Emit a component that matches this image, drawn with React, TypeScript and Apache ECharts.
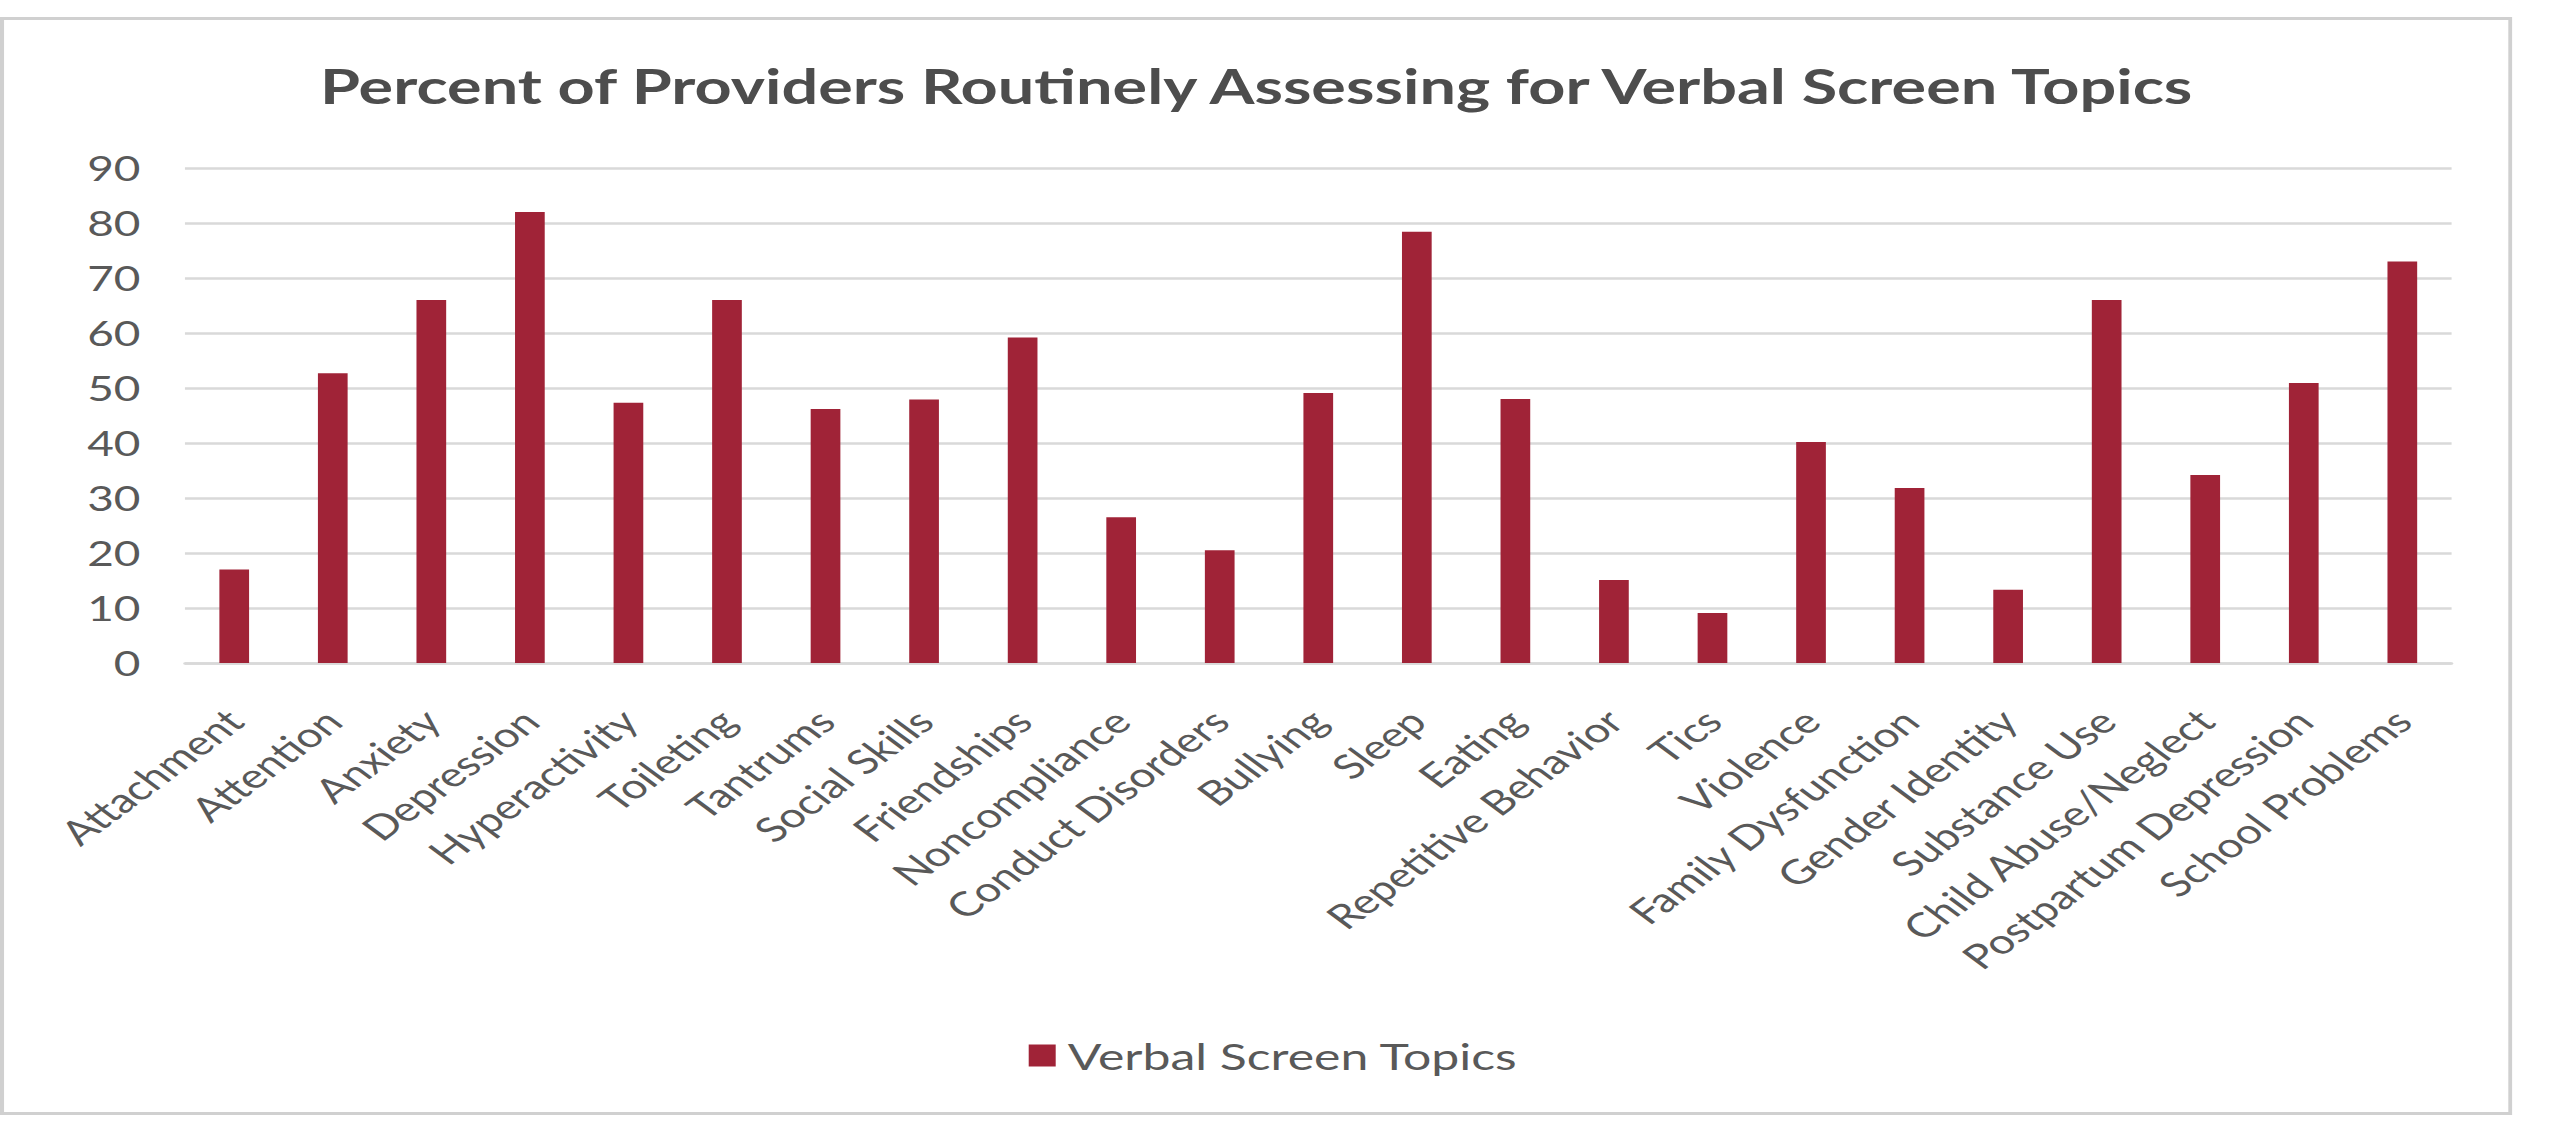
import React, { useEffect, useRef } from "react";
import * as echarts from "echarts";

const categories: string[] = [
  "Attachment",
  "Attention",
  "Anxiety",
  "Depression",
  "Hyperactivity",
  "Toileting",
  "Tantrums",
  "Social Skills",
  "Friendships",
  "Noncompliance",
  "Conduct Disorders",
  "Bullying",
  "Sleep",
  "Eating",
  "Repetitive Behavior",
  "Tics",
  "Violence",
  "Family Dysfunction",
  "Gender Identity",
  "Substance Use",
  "Child Abuse/Neglect",
  "Postpartum Depression",
  "School Problems",
];

const verbalScreenValues: number[] = [
  17, 52.7, 66, 82, 47.3, 66, 46.2, 47.9, 59.2, 26.5, 20.5, 49.1, 78.4, 48,
  15.1, 9.1, 40.2, 31.8, 13.3, 66, 34.2, 50.9, 73,
];

const seriesName = "Verbal Screen Topics";
const titleText = "Percent of Providers Routinely Assessing for Verbal Screen Topics";
const yTicks = { min: 0, max: 90, interval: 10 };

const STRETCH = 1.35;
const W = 1861;
const H = 1098;

export default function App() {
  const ref = useRef<HTMLDivElement>(null);

  useEffect(() => {
    if (!ref.current) return;
    const chart = echarts.init(ref.current, undefined, { renderer: "svg" });
    const font = "Lato, 'Open Sans', sans-serif";
    chart.setOption({
      animation: false,
      backgroundColor: "#ffffff",
      title: {
        text: titleText,
        left: "center",
        top: 39,
        textStyle: {
          fontFamily: font,
          fontWeight: "bold",
          fontSize: 48,
          color: "#4d4d4d",
        },
      },
      legend: {
        data: [seriesName],
        left: 757,
        top: 1015,
        icon: "rect",
        itemWidth: 20,
        itemHeight: 22,
        itemGap: 10,
        textStyle: {
          fontFamily: font,
          fontSize: 37,
          color: "#595959",
          padding: [0, 0, 0, 4],
        },
      },
      grid: {
        left: 137,
        right: 45,
        top: 151,
        bottom: 452,
        containLabel: false,
      },
      xAxis: {
        type: "category",
        data: categories,
        axisLine: { show: true, lineStyle: { color: "#d9d9d9", width: 2.5 } },
        axisTick: { show: false },
        axisLabel: {
          interval: 0,
          rotate: 45,
          margin: 52,
          fontFamily: font,
          fontSize: 34,
          color: "#595959",
        },
      },
      yAxis: {
        type: "value",
        min: yTicks.min,
        max: yTicks.max,
        interval: yTicks.interval,
        axisLine: { show: false },
        axisTick: { show: false },
        splitLine: { show: true, lineStyle: { color: "#d9d9d9", width: 2.5 } },
        axisLabel: {
          margin: 33,
          fontFamily: font,
          fontSize: 34,
          color: "#595959",
        },
      },
      series: [
        {
          name: seriesName,
          type: "bar",
          data: verbalScreenValues,
          barWidth: 22,
          itemStyle: { color: "#A02337" },
        },
      ],
      graphic: [
        {
          type: "rect",
          shape: { x: 1.5, y: 1.5, width: W - 3, height: H - 3 },
          style: { fill: "none", stroke: "#d0d0d0", lineWidth: 3 },
          silent: true,
        },
      ],
    });
    return () => chart.dispose();
  }, []);

  return (
    <div
      style={{
        position: "fixed",
        left: 0,
        top: 17,
        width: W,
        height: H,
        transform: `scaleX(${STRETCH})`,
        transformOrigin: "0 0",
      }}
    >
      <div ref={ref} style={{ width: W, height: H }} />
    </div>
  );
}
